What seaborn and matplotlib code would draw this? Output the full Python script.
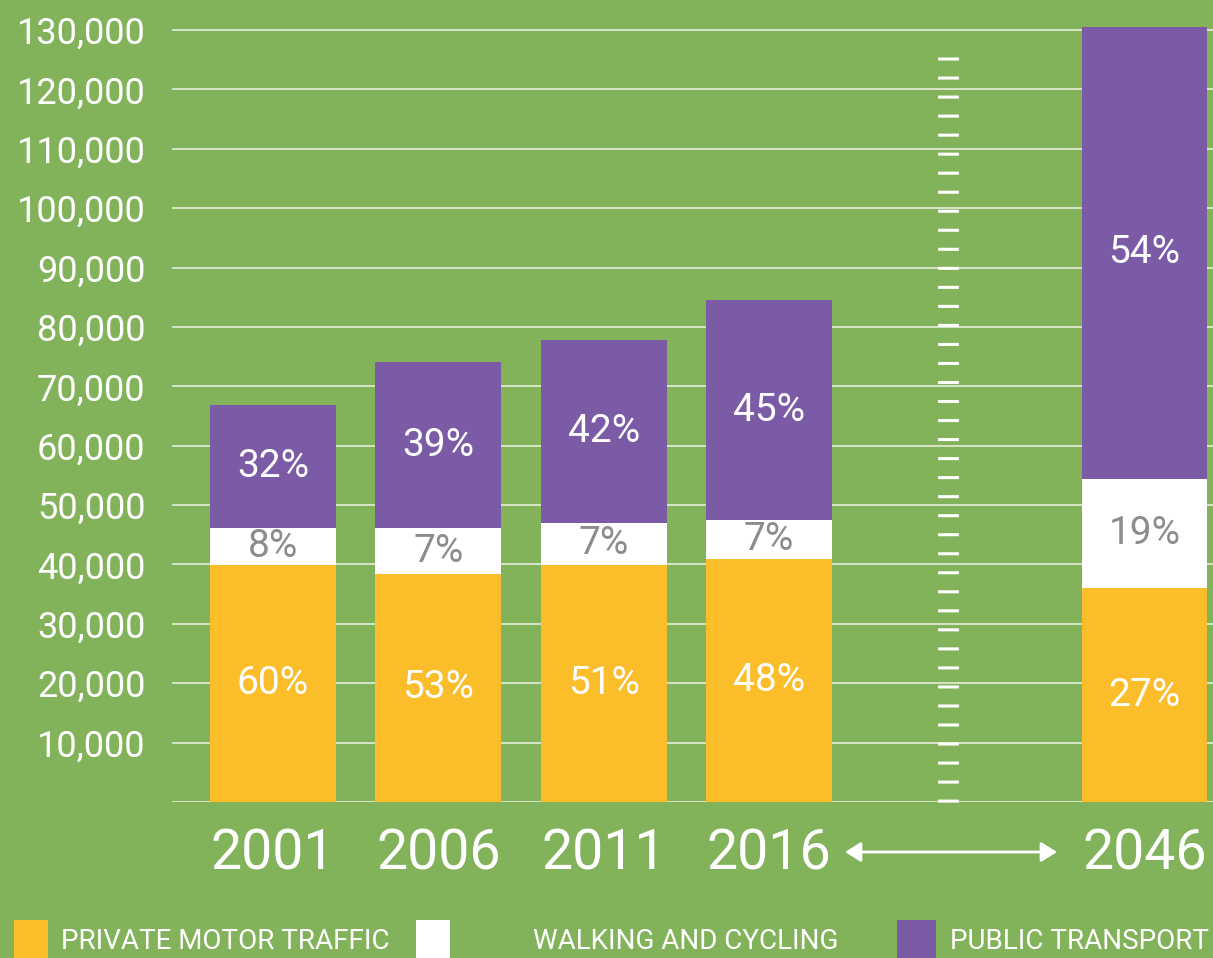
import numpy as np
import pandas as pd
import seaborn as sns
import matplotlib.pyplot as plt
from matplotlib.lines import Line2D
from matplotlib.patches import Rectangle

# data (trips per day)
years = ['2001', '2006', '2011', '2016', '2046']
private = [39900, 38400, 39900, 40900, 36000]
walking = [6200, 7700, 7100, 6600, 18400]
public = [20700, 28000, 30800, 37000, 76100]
pct_private = ['60%', '53%', '51%', '48%', '27%']
pct_walking = ['8%', '7%', '7%', '7%', '19%']
pct_public = ['32%', '39%', '42%', '45%', '54%']
legend_labels = ['PRIVATE MOTOR TRAFFIC', 'WALKING AND CYCLING', 'PUBLIC TRANSPORT']
yticks = list(range(0, 130001, 10000))

GREEN = '#82b25a'
YELLOW = '#fcbd2a'
PURPLE = '#7b5aa6'
WHITE = '#ffffff'
GREY = '#8c8c8c'
GRID = '#dce9cf'

df = pd.DataFrame({'year': years, 'private': private, 'walking': walking, 'public': public})
df['pw'] = df['private'] + df['walking']
df['total'] = df['pw'] + df['public']

sns.set_theme(style='white')
plt.rcParams['font.family'] = ['Roboto', 'DejaVu Sans']
plt.rcParams['lines.scale_dashes'] = False

W, H = 1213, 958
fig = plt.figure(figsize=(W / 100, H / 100), dpi=100, facecolor=GREEN)


def box(x0, y0, x1, y1):
    # pixel box (top-left origin) -> figure fraction rect
    return [x0 / W, 1 - y1 / H, (x1 - x0) / W, (y1 - y0) / H]


unit = 165.33  # pixels between bar centres
ax1 = fig.add_axes(box(172, 27, 947.5, 802))
ax2 = fig.add_axes(box(947.5, 27, 1213, 802))
parts = [(ax1, df.iloc[:4].reset_index(drop=True)), (ax2, df.iloc[4:].reset_index(drop=True))]

for ax, d in parts:
    ax.set_facecolor(GREEN)
    for col, c in [('total', PURPLE), ('pw', WHITE), ('private', YELLOW)]:
        sns.barplot(data=d, x='year', y=col, color=c, saturation=1, width=0.762,
                    linewidth=0, ax=ax)
    for i in range(len(d)):
        k = years.index(d['year'][i])
        ax.text(i, d['private'][i] / 2, pct_private[k],
                ha='center', va='center', color=WHITE, fontsize=28)
        ax.text(i, d['private'][i] + d['walking'][i] / 2, pct_walking[k],
                ha='center', va='center', color=GREY, fontsize=28)
        ax.text(i, d['pw'][i] + d['public'][i] / 2, pct_public[k],
                ha='center', va='center', color=WHITE, fontsize=28)
    ax.set_ylim(0, 130500)
    ax.set_yticks(yticks)
    ax.grid(axis='y', color=GRID, lw=1.3)
    ax.set_axisbelow(True)
    ax.set_xlabel('')
    ax.set_ylabel('')
    sns.despine(ax=ax, left=True, bottom=True)
    ax.tick_params(axis='x', length=0, pad=18, labelsize=40, labelcolor=WHITE)
    ax.tick_params(axis='y', length=0, pad=19, labelsize=26, labelcolor=WHITE)

ax1.set_xlim(-(273 - 172) / unit, 3 + (947.5 - 769) / unit)
ax2.set_xlim(-(1144.5 - 947.5) / unit, (1213 - 1144.5) / unit)
ax1.set_yticklabels(['' if v == 0 else f'{v:,}' for v in yticks])
ax2.set_yticklabels([])

# break marker between 2016 and 2046
fig.add_artist(Line2D([947.5 / W, 947.5 / W], [1 - 57 / H, 1 - 803 / H],
                      transform=fig.transFigure, color=WHITE, lw=15,
                      dashes=(2.2, 11.5), solid_capstyle='butt', dash_capstyle='butt'))

# double arrow 2016 <-> 2046
ax1.annotate('', xy=(1057, H - 852), xytext=(845, H - 852), xycoords='figure pixels',
             textcoords='figure pixels',
             arrowprops=dict(arrowstyle='<|-|>,head_length=0.8,head_width=0.5',
                             color=WHITE, lw=2, shrinkA=0, shrinkB=0))

# legend row at the bottom
sq_x = [14, 416, 897]
sq_w = [34, 34, 39]
txt_x = [61, 533, 950]
for lab, c, sx, sw, tx in zip(legend_labels, [YELLOW, WHITE, PURPLE], sq_x, sq_w, txt_x):
    fig.add_artist(Rectangle((sx / W, 0), sw / W, (H - 920) / H,
                             transform=fig.transFigure, color=c, lw=0))
    fig.text(tx / W, 1 - 949 / H, lab, color=WHITE, fontsize=20, ha='left', va='baseline')

fig.savefig('out.png', dpi=100, facecolor=GREEN)
